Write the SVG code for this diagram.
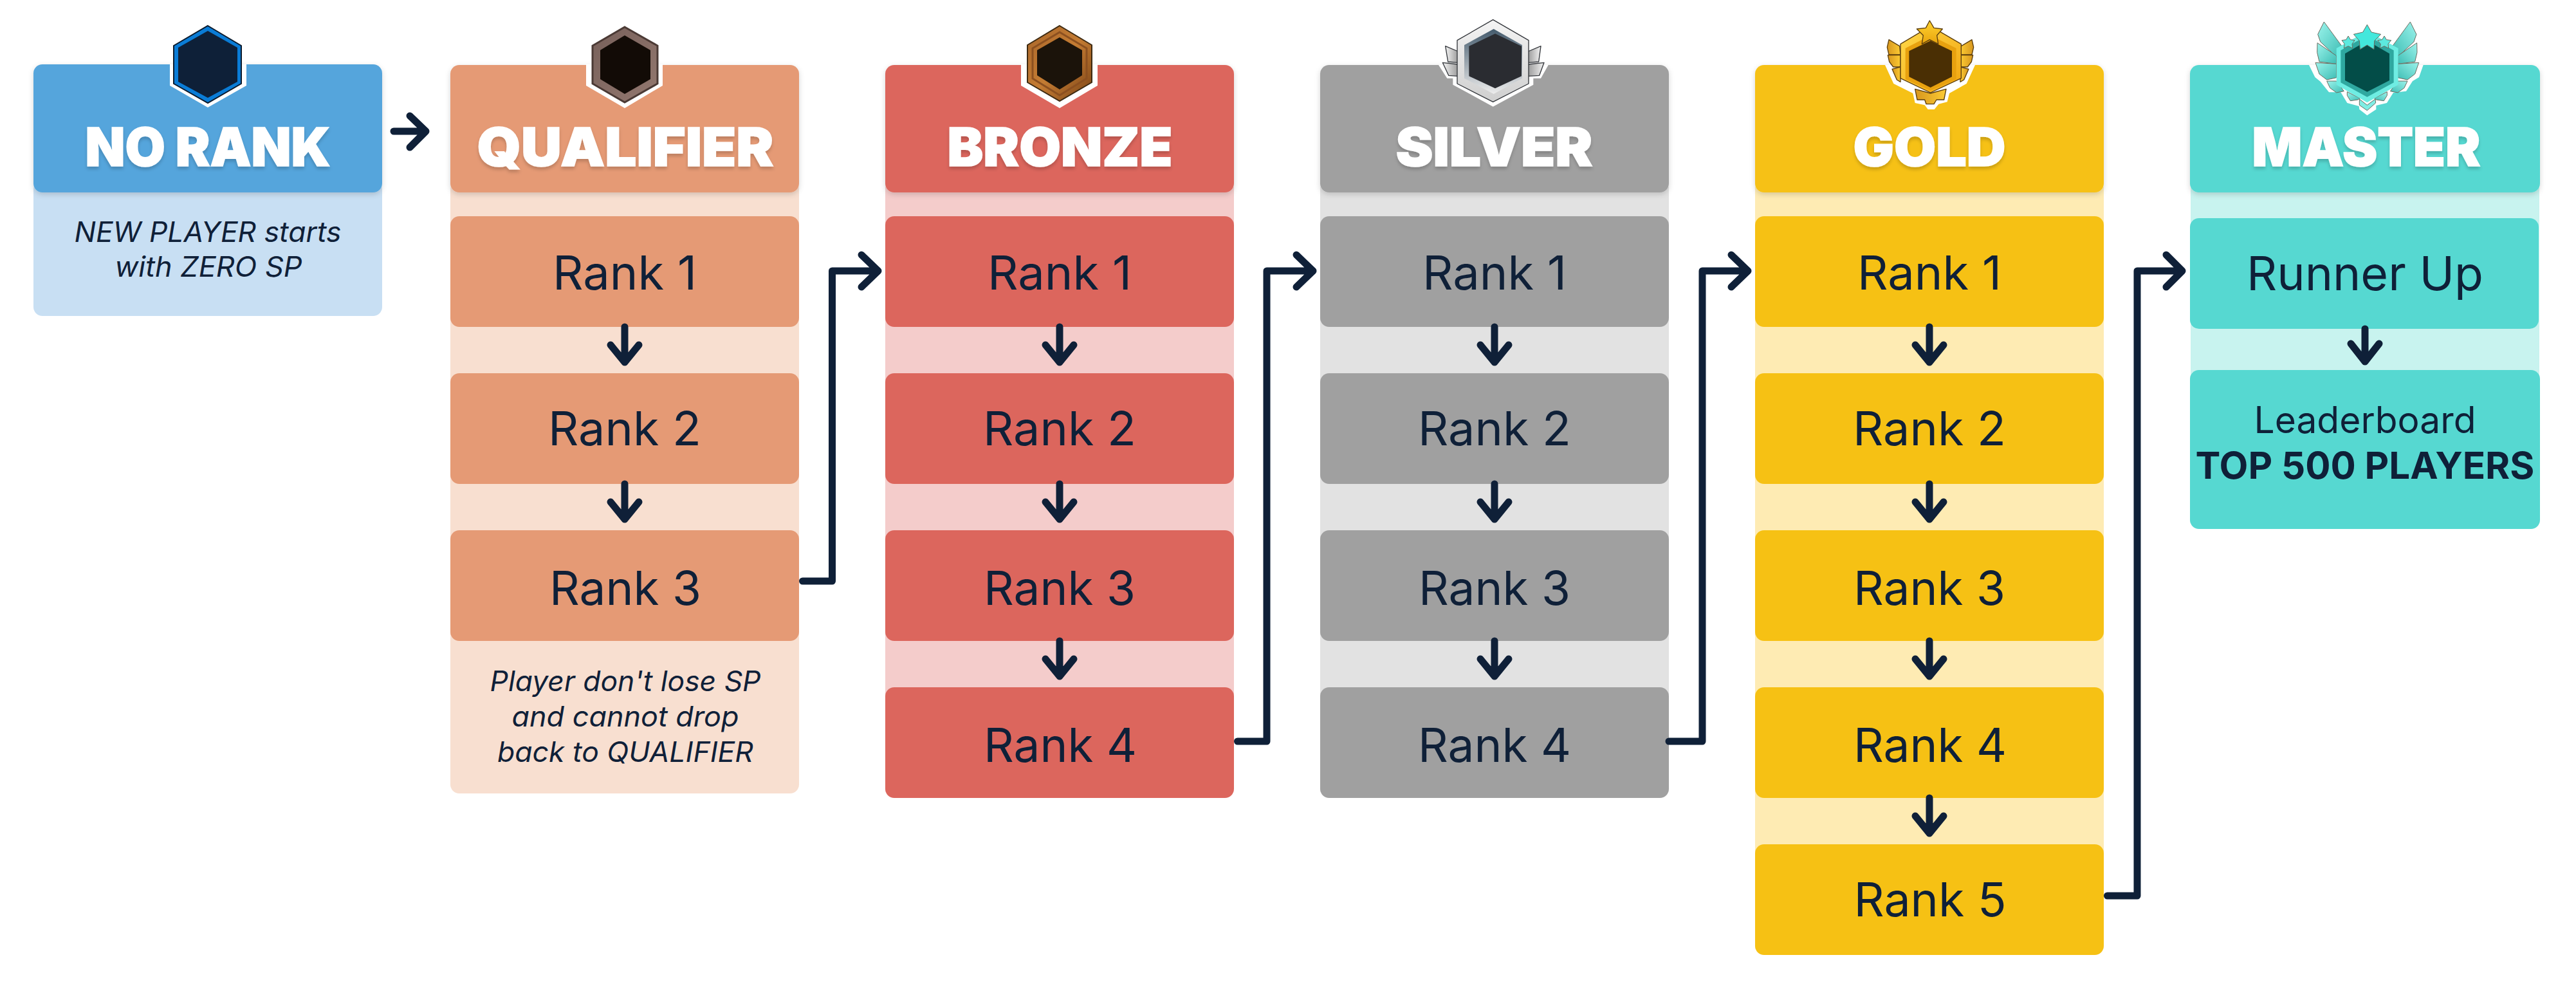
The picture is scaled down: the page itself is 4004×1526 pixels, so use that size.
<svg xmlns="http://www.w3.org/2000/svg" width="4004" height="1526" viewBox="0 0 4004 1526">
<style>
text{font-family:"Inter","Roboto","Liberation Sans",sans-serif;fill:#0F2038;text-anchor:middle}
.h{font-size:83px;font-weight:900;fill:#fff;stroke:#fff;stroke-width:1.5;filter:url(#ts)}
.r{font-size:73px;font-weight:400}
.n{font-size:44px;font-style:italic;font-weight:400}
.l{font-size:57px;font-weight:400}
.b{font-size:58px;font-weight:700}
.hd{filter:url(#hs)}
.c0{fill:#55A5DC}.c1{fill:#E59A75}.c2{fill:#DC665D}.c3{fill:#A0A0A0}.c4{fill:#F6C114}.c5{fill:#56D8D1}
.s0{fill:#C8DFF3}.s1{fill:#F8DFD0}.s2{fill:#F4CCCB}.s3{fill:#E2E2E2}.s4{fill:#FEEBB3}.s5{fill:#C8F3EF}
.halo{fill:#fff}
.cn{fill:none;stroke:#0F2038;stroke-width:11;stroke-linecap:round;stroke-linejoin:round}
.ol3{stroke:#33363B;stroke-width:4;stroke-linejoin:round}
.ol4{stroke:#5A3D0E;stroke-width:4;stroke-linejoin:round}
.ol5{stroke:#6B6A5E;stroke-width:3;stroke-linejoin:round}
</style>
<defs>
<filter id="hs" x="-5%" y="-5%" width="110%" height="115%"><feDropShadow dx="0" dy="3" stdDeviation="4" flood-color="#000" flood-opacity=".16"/></filter>
<filter id="ts" x="-5%" y="-10%" width="110%" height="125%"><feDropShadow dx="0" dy="4" stdDeviation="2.5" flood-color="#000" flood-opacity=".18"/></filter>
<linearGradient id="gq" x1="0" y1="0" x2="1" y2="1"><stop offset="0" stop-color="#77605A"/><stop offset="1" stop-color="#93786F"/></linearGradient>
<linearGradient id="gb" x1="0" y1="0" x2="1" y2="1"><stop offset="0" stop-color="#A9662A"/><stop offset=".5" stop-color="#C47C33"/><stop offset="1" stop-color="#7A4315"/></linearGradient>
<linearGradient id="gs" x1="0" y1="0" x2="0" y2="1"><stop offset="0" stop-color="#F4F4F4"/><stop offset="1" stop-color="#CFCFCF"/></linearGradient>
<linearGradient id="gsw" x1="0" y1="0" x2="1" y2="0"><stop offset="0" stop-color="#F4F4F4"/><stop offset="1" stop-color="#9A9A9A"/></linearGradient>
<linearGradient id="gsw2" x1="1" y1="0" x2="0" y2="0"><stop offset="0" stop-color="#F4F4F4"/><stop offset="1" stop-color="#9A9A9A"/></linearGradient>
<linearGradient id="gsi" x1="0" y1="0" x2="0" y2="1"><stop offset="0" stop-color="#435A6C"/><stop offset="1" stop-color="#EDEDED"/></linearGradient>
<linearGradient id="gg" x1="0" y1="0" x2="1" y2="1"><stop offset="0" stop-color="#FFD94A"/><stop offset="1" stop-color="#F2A50F"/></linearGradient>
<linearGradient id="gw" x1="0" y1="0" x2="1" y2="0"><stop offset="0" stop-color="#D7961E"/><stop offset="1" stop-color="#FCCB33"/></linearGradient>
<linearGradient id="gst" x1="0" y1="0" x2="0" y2="1"><stop offset="0" stop-color="#FFD331"/><stop offset="1" stop-color="#E8A40D"/></linearGradient>
<linearGradient id="gm" x1="0" y1="0" x2="1" y2="1"><stop offset="0" stop-color="#9CF4EC"/><stop offset="1" stop-color="#3DBDB4"/></linearGradient>
<g id="wingsG"><path d="M168 125L218 155L222 195H168L160 160Z" fill="url(#gw)" class="ol4"/><path d="M163 197H222V252H188L170 228Z" fill="url(#gw)" class="ol4"/><path d="M183 262L222 252V322L205 312Z" fill="url(#gw)" class="ol4"/></g>
<g id="wingsM"><path d="M157 42L240 155L215 205L140 135L128 100Z" fill="url(#gm)" class="ol5"/><path d="M126 140L215 200V238L135 228L125 185Z" fill="url(#gm)" class="ol5"/><path d="M117 232L215 238V302L170 312L135 285Z" fill="url(#gm)" class="ol5"/><path d="M170 318L215 318L250 365L215 372L185 350Z" fill="url(#gm)" class="ol5"/><path d="M265 368L325 398L315 405L280 410L265 385Z" fill="url(#gm)" class="ol5"/></g>
</defs>
<rect width="4004" height="1526" fill="#fff"/>

<g id="no-rank">
<rect class="s0" x="52" y="280" width="542" height="211" rx="14"/>
<rect class="c0 hd" x="52" y="100" width="542" height="199" rx="14"/>
<path class="halo" d="M264 100H383V133L323 167L264 133Z"/>
<path d="M323 40L375 71V130L323 160L270 130V71Z" fill="#0A7CD6" stroke="#0B1A2C" stroke-width="2"/>
<path d="M323 48L369 74V127L323 152L277 127V74Z" fill="#0E2038"/>
<text class="h" x="323" y="258" textLength="381" lengthAdjust="spacingAndGlyphs">NO RANK</text>
<text class="n" x="323" y="376" textLength="415" lengthAdjust="spacingAndGlyphs">NEW PLAYER starts</text>
<text class="n" x="324" y="430" textLength="291" lengthAdjust="spacingAndGlyphs">with ZERO SP</text>
</g>

<g id="qualifier">
<rect class="s1" x="700" y="280" width="542" height="953" rx="14"/>
<rect class="c1 hd" x="700" y="101" width="542" height="198" rx="14"/>
<path class="halo" d="M911 100H1030V133L971 168L911 133Z"/>
<path d="M971 42L1022 71V130L971 159L921 130V71Z" fill="url(#gq)" stroke="#4B3A35" stroke-width="3"/>
<path d="M971 55L1011 78V123L971 146L933 123V78Z" fill="#120B06"/>
<text class="h" x="972" y="258" textLength="461" lengthAdjust="spacingAndGlyphs">QUALIFIER</text>
<g id="q1"><rect class="c1" x="700" y="336" width="542" height="172" rx="14"/><text class="r" x="971" y="450" textLength="224" lengthAdjust="spacingAndGlyphs">Rank 1</text></g>
<g id="q2"><rect class="c1" x="700" y="580" width="542" height="172" rx="14"/><text class="r" x="971" y="692" textLength="238" lengthAdjust="spacingAndGlyphs">Rank 2</text></g>
<g id="q3"><rect class="c1" x="700" y="824" width="542" height="172" rx="14"/><text class="r" x="972" y="940" textLength="236" lengthAdjust="spacingAndGlyphs">Rank 3</text></g>
<text class="n" x="972" y="1074" textLength="421" lengthAdjust="spacingAndGlyphs">Player don't lose SP</text>
<text class="n" x="972" y="1129" textLength="353" lengthAdjust="spacingAndGlyphs">and cannot drop</text>
<text class="n" x="972" y="1184" textLength="398" lengthAdjust="spacingAndGlyphs">back to QUALIFIER</text>
</g>

<g id="bronze">
<rect class="s2" x="1376" y="290" width="542" height="830"/>
<rect class="c2 hd" x="1376" y="101" width="542" height="198" rx="14"/>
<path class="halo" d="M1587 100H1706V133L1647 168L1587 133Z"/>
<path d="M1647 40L1697 70V128L1647 157L1597 128V70Z" fill="url(#gb)" stroke="#3D2A12" stroke-width="2"/>
<path d="M1647 50L1689 75V122L1647 148L1605 122V75Z" fill="none" stroke="#8C5020" stroke-width="3"/>
<path d="M1647 58L1682 78V117L1647 139L1612 117V78Z" fill="#1B130A"/>
<text class="h" x="1647.500" y="258" textLength="350" lengthAdjust="spacingAndGlyphs">BRONZE</text>
<g id="b1"><rect class="c2" x="1376" y="336" width="542" height="172" rx="14"/><text class="r" x="1647" y="450" textLength="224" lengthAdjust="spacingAndGlyphs">Rank 1</text></g>
<g id="b2"><rect class="c2" x="1376" y="580" width="542" height="172" rx="14"/><text class="r" x="1647" y="692" textLength="238" lengthAdjust="spacingAndGlyphs">Rank 2</text></g>
<g id="b3"><rect class="c2" x="1376" y="824" width="542" height="172" rx="14"/><text class="r" x="1647" y="940" textLength="236" lengthAdjust="spacingAndGlyphs">Rank 3</text></g>
<g id="b4"><rect class="c2" x="1376" y="1068" width="542" height="172" rx="14"/><text class="r" x="1648" y="1184" textLength="238" lengthAdjust="spacingAndGlyphs">Rank 4</text></g>
</g>

<g id="silver">
<rect class="s3" x="2052" y="290" width="542" height="830"/>
<rect class="c3 hd" x="2052" y="101" width="542" height="198" rx="14"/>
<g transform="translate(2210 20) scale(.33333)">
<path class="halo" d="M78 243H590L555 305H520V335L332 437L145 335V305H118Z"/>
<path d="M110 155L170 180V232L122 228Z" fill="url(#gsw)" class="ol3"/>
<path d="M97 232L170 240V295L125 292Z" fill="url(#gsw)" class="ol3"/>
<path d="M555 155L495 180V232L545 228Z" fill="url(#gsw2)" class="ol3"/>
<path d="M570 232L495 240V295L548 292Z" fill="url(#gsw2)" class="ol3"/>
<path d="M332 32L498 128V330L332 415L165 330V128Z" fill="url(#gs)" class="ol3"/>
<path d="M335 75L468 150V305L335 378L198 305V150Z" fill="url(#gsi)"/>
<path d="M342 97L465 155V295L342 352L220 295V155Z" fill="#2A2C31"/>
</g>
<text class="h" x="2322.500" y="258" textLength="306" lengthAdjust="spacingAndGlyphs">SILVER</text>
<g id="s1"><rect class="c3" x="2052" y="336" width="542" height="172" rx="14"/><text class="r" x="2323" y="450" textLength="224" lengthAdjust="spacingAndGlyphs">Rank 1</text></g>
<g id="s2"><rect class="c3" x="2052" y="580" width="542" height="172" rx="14"/><text class="r" x="2323" y="692" textLength="238" lengthAdjust="spacingAndGlyphs">Rank 2</text></g>
<g id="s3"><rect class="c3" x="2052" y="824" width="542" height="172" rx="14"/><text class="r" x="2323" y="940" textLength="236" lengthAdjust="spacingAndGlyphs">Rank 3</text></g>
<g id="s4"><rect class="c3" x="2052" y="1068" width="542" height="172" rx="14"/><text class="r" x="2323" y="1184" textLength="238" lengthAdjust="spacingAndGlyphs">Rank 4</text></g>
</g>

<g id="gold">
<rect class="s4" x="2728" y="290" width="542" height="1070"/>
<rect class="c4 hd" x="2728" y="101" width="542" height="198" rx="14"/>
<g transform="translate(2880 20) scale(.33333)">
<path class="halo" d="M150 243H570L530 330L450 375L440 415L400 425L380 450H350L335 430L290 420L280 375L190 330Z"/>
<use href="#wingsG"/>
<use href="#wingsG" transform="translate(723 0) scale(-1 1)"/>
<path d="M290 355L300 405L335 405L342 425H378L390 405L425 405L435 355L362 375Z" fill="url(#gw)" class="ol4"/>
<path d="M362 62L505 145V305L362 372L222 305V145Z" fill="url(#gg)" class="ol4"/>
<path d="M362 105L482 165V310L362 362L245 310V165Z" fill="#E8A10F"/>
<path d="M362 130L462 178V298L362 348L262 298V178Z" fill="#4A2F04"/>
<path d="M358 36L378 70L418 75L392 105L398 145L358 125L322 145L328 105L298 75L340 70Z" fill="url(#gst)" class="ol4"/>
</g>
<text class="h" x="2999" y="258" textLength="237" lengthAdjust="spacingAndGlyphs">GOLD</text>
<g id="g1"><rect class="c4" x="2728" y="336" width="542" height="172" rx="14"/><text class="r" x="2999" y="450" textLength="224" lengthAdjust="spacingAndGlyphs">Rank 1</text></g>
<g id="g2"><rect class="c4" x="2728" y="580" width="542" height="172" rx="14"/><text class="r" x="2999" y="692" textLength="238" lengthAdjust="spacingAndGlyphs">Rank 2</text></g>
<g id="g3"><rect class="c4" x="2728" y="824" width="542" height="172" rx="14"/><text class="r" x="2999" y="940" textLength="236" lengthAdjust="spacingAndGlyphs">Rank 3</text></g>
<g id="g4"><rect class="c4" x="2728" y="1068" width="542" height="172" rx="14"/><text class="r" x="3000" y="1184" textLength="238" lengthAdjust="spacingAndGlyphs">Rank 4</text></g>
<g id="g5"><rect class="c4" x="2728" y="1312" width="542" height="172" rx="14"/><text class="r" x="3000" y="1424" textLength="237" lengthAdjust="spacingAndGlyphs">Rank 5</text></g>
</g>

<g id="master">
<rect class="s5" x="3405" y="290" width="542" height="320"/>
<rect class="c5 hd" x="3404" y="101" width="544" height="198" rx="14"/>
<g transform="translate(3560 20) scale(.33333)">
<path class="halo" d="M87 243H620L600 300L570 318L540 365L480 372L450 420L400 432V450L358 478L322 450L320 435L265 420L235 370H180L140 320L115 300Z"/>
<use href="#wingsM"/>
<use href="#wingsM" transform="translate(716 0) scale(-1 1)"/>
<path d="M322 402L358 430L396 402L398 420L358 455L322 430Z" fill="#7FEDE4" class="ol5"/>
<path d="M358 85L503 165V335L358 418L215 335V165Z" fill="#6FEDE3"/>
<path d="M358 105L482 175V325L358 392L235 325V175Z" fill="#2FA8A0"/>
<path d="M358 130L462 190V315L358 368L255 315V190Z" fill="#034D48"/>
<path d="M270 108L280 125L300 128L288 145L290 165L270 155L250 165L253 145L240 128L260 125Z" fill="#5CE9DE" class="ol5"/>
<path d="M438 108L448 125L470 128L456 145L458 165L438 155L418 165L421 145L407 128L428 125Z" fill="#5CE9DE" class="ol5"/>
<path d="M358 55L378 90L422 100L392 130L390 170L358 150L325 170L322 130L295 100L338 90Z" fill="#43E8DC" class="ol5"/>
</g>
<text class="h" x="3678" y="258" textLength="355" lengthAdjust="spacingAndGlyphs">MASTER</text>
<g id="m1"><rect class="c5" x="3404" y="339" width="542" height="172" rx="14"/><text class="r" x="3676" y="451" textLength="368" lengthAdjust="spacingAndGlyphs">Runner Up</text></g>
<g id="m2"><rect class="c5" x="3404" y="575" width="544" height="247" rx="14"/><text class="l" x="3676" y="673" textLength="345" lengthAdjust="spacingAndGlyphs">Leaderboard</text><text class="b" x="3676" y="744" textLength="527" lengthAdjust="spacingAndGlyphs">TOP 500 PLAYERS</text></g>
</g>

<g id="connectors">
<path class="cn" d="M612 204H662M637 180L662 204L637 229"/>
<path class="cn" d="M971 508V563M949 536L971 563L993 536M971 752V807M949 780L971 807L993 780"/>
<path class="cn" d="M1647 508V563M1625 536L1647 563L1669 536M1647 752V807M1625 780L1647 807L1669 780M1647 996V1051M1625 1024L1647 1051L1669 1024"/>
<path class="cn" d="M2323 508V563M2301 536L2323 563L2345 536M2323 752V807M2301 780L2323 807L2345 780M2323 996V1051M2301 1024L2323 1051L2345 1024"/>
<path class="cn" d="M2999 508V563M2977 536L2999 563L3021 536M2999 752V807M2977 780L2999 807L3021 780M2999 996V1051M2977 1024L2999 1051L3021 1024M2999 1240V1295M2977 1268L2999 1295L3021 1268"/>
<path class="cn" d="M3676 511V562M3654 534L3676 562L3698 534"/>
<path class="cn" d="M1247.500 903H1293.500V421H1365M1339 396L1365 421L1339 446"/>
<path class="cn" d="M1923.500 1152H1969V421H2041M2015 396L2041 421L2015 446"/>
<path class="cn" d="M2594 1152H2646V421H2717M2691 396L2717 421L2691 446"/>
<path class="cn" d="M3275.500 1392H3322V421H3392M3367 396L3392 421L3367 446"/>
</g>
</svg>
